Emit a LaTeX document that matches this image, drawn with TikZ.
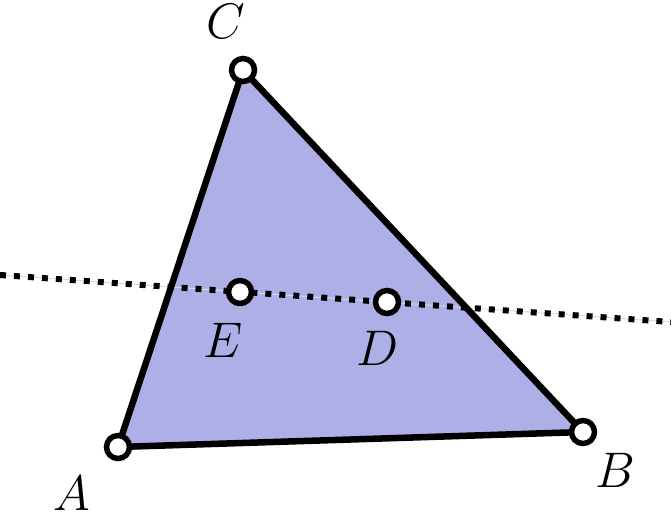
\RequirePackage{fix-cm}
\documentclass[tikz,border=0pt]{standalone}
\definecolor{lavender}{RGB}{175,175,232}
\tikzset{
	point/.style={circle, draw=black, fill=white, line width=5.5pt, minimum size=23pt, inner sep=0pt},
	label/.style={inner sep=0pt, font=\fontsize{50}{60}\selectfont}
}
\begin{document}
\begin{tikzpicture}[x=1pt, y=-1pt]
	\useasboundingbox (0, 0) rectangle (671, 514);

	\coordinate (A) at (118, 447);
	\coordinate (B) at (583, 432);
	\coordinate (C) at (243, 70);
	\coordinate (E) at (240, 292);
	\coordinate (D) at (387, 302);
	\coordinate (L) at (0, 275);
	\coordinate (R) at (671, 322);

	\fill[lavender] (A) -- (B) -- (C) -- cycle;

	\draw[lavender!50, line width=1pt] (L) -- (R);
	\draw[line width=6pt, dash pattern=on 6pt off 8pt] (L) -- (R);

	\draw[line width=6.5pt, line join=round] (A) -- (B) -- (C) -- cycle;

	\node[point] (pA) at (A) {};
	\node[point] (pB) at (B) {};
	\node[point] (pC) at (C) {};
	\node[point] (pE) at (E) {};
	\node[point] (pD) at (D) {};

	\node[label] at (226, 21) {$C$};
	\node[label] at (72, 493) {$A$};
	\node[label] at (615, 470) {$B$};
	\node[label] at (223, 340) {$E$};
	\node[label] at (377, 348) {$D$};
\end{tikzpicture}
\end{document}
